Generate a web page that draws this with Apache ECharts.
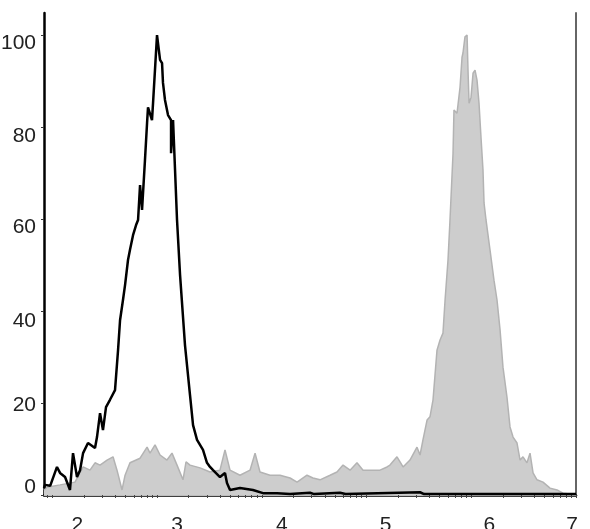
<!DOCTYPE html>
<html>
<head>
<meta charset="utf-8">
<script src="https://cdn.jsdelivr.net/npm/echarts@6/dist/echarts.min.js"></script>
<style>
html,body{margin:0;padding:0;background:#fff;}
#chart{width:590px;height:529px;}
</style>
</head>
<body>
<div id="chart"></div>
<script>
// X axis in decades (log10 of intensity), Y axis in % of max
const xTickLabels = [2, 3, 4, 5, 6, 7];
const yTickLabels = [0, 20, 40, 60, 80, 100];

const blackX = [1.921,1.93,1.98,2.045,2.074,2.122,2.169,2.198,2.236,2.265,2.294,2.341,2.408,2.427,2.456,2.484,2.513,2.551,2.599,2.628,2.647,2.675,2.695,2.723,2.742,2.771,2.800,2.819,2.838,2.857,2.885,2.905,2.914,2.952,2.962,3.000,3.029,3.048,3.057,3.076,3.105,3.134,3.134,3.153,3.172,3.191,3.220,3.267,3.315,3.344,3.382,3.439,3.477,3.506,3.535,3.601,3.649,3.668,3.697,3.792,3.916,4.012,4.146,4.270,4.461,4.50,4.747,4.80,5.511,5.55,7.0];
const blackY = [1.5,2.2,2.0,6.1,4.8,3.9,1.1,9.1,3.9,5.4,9.1,11.3,10.2,12.6,17.8,14.1,19.1,20.7,22.8,31.5,38.0,42.4,45.7,51.1,53.3,56.5,58.7,59.8,67.4,62.0,72.8,80.9,84.3,81.5,85.2,100,94.6,93.9,89.6,85.9,82.6,81.5,74.3,81.5,70.7,59.8,47.8,32.6,21.7,15.2,12.0,9.8,7.0,6.1,5.4,3.9,4.8,2.6,1.1,1.5,1.1,0.4,0.4,0.2,0.5,0.2,0.5,0.2,0.6,0.2,0.2];

const grayX = [1.921,1.950,2.074,2.217,2.294,2.360,2.408,2.456,2.523,2.580,2.618,2.666,2.695,2.742,2.838,2.905,2.933,2.981,3.029,3.095,3.143,3.191,3.248,3.277,3.315,3.411,3.506,3.601,3.649,3.697,3.792,3.888,3.936,3.983,4.079,4.174,4.270,4.337,4.432,4.489,4.556,4.652,4.718,4.776,4.843,4.909,4.967,5.033,5.129,5.196,5.224,5.291,5.349,5.415,5.482,5.511,5.539,5.578,5.606,5.635,5.673,5.702,5.730,5.750,5.778,5.797,5.826,5.835,5.864,5.893,5.912,5.921,5.940,5.960,5.969,5.979,5.998,6.017,6.036,6.055,6.074,6.093,6.112,6.122,6.141,6.179,6.217,6.246,6.275,6.303,6.341,6.370,6.399,6.437,6.466,6.494,6.532,6.561,6.590,6.628,6.685,6.752,6.819,6.876,6.943,7.000];
const grayY = [1.1,1.7,2.2,2.8,6.1,5.4,7.0,6.5,7.6,8.3,5.4,1.1,4.3,7.0,8.0,10.4,9.1,10.9,8.7,7.6,9.1,6.5,3.3,7.2,6.5,5.9,5.0,5.4,9.8,5.4,4.3,5.4,9.1,5.0,4.3,4.3,3.7,2.8,4.3,3.7,3.3,4.3,5.0,6.5,5.4,7.0,5.4,5.4,5.4,6.1,6.5,8.3,6.1,7.6,10.4,8.7,12.0,16.3,17.0,20.7,31.5,33.7,35.2,42.4,51.1,59.8,74.3,83.7,83.0,88.7,95.2,96.1,99.6,100,92.4,85.2,86.5,91.7,92.4,90.2,85.2,77.8,70.7,63.5,59.8,53.3,46.7,42.4,35.9,27.8,21.3,14.8,12.6,11.3,7.6,8.3,7.0,9.1,4.8,3.3,2.8,1.5,1.1,0.4,0.2,0];

const blackData = blackX.map((x, i) => [x, blackY[i]]);
const grayData = grayX.map((x, i) => [x, grayY[i]]);

// minor tick positions on the log-decade axis
const xMinorTicks = [];
for (let d = 1; d <= 6; d++) {
  for (let k = 1; k <= 9; k++) {
    const v = d + Math.log10(k);
    if (v >= 1.921 && v <= 7) xMinorTicks.push(+v.toFixed(4));
  }
}
xMinorTicks.push(7);

const FONT = "'Liberation Sans', Arial, sans-serif";
const FS = 21;
const TXT = '#222';

// label shifts (px) so labels sit where they do in the figure
const xShift = {2: 25, 3: 20, 4: 20, 5: 19, 6: 18, 7: -4};
const yShift = {0: -8, 20: 2, 40: 10, 60: 8, 80: 9, 100: 8};

const xRich = {};
xTickLabels.forEach(v => {
  const s = xShift[v];
  xRich['x' + v] = {
    fontFamily: FONT, fontSize: FS, color: TXT,
    padding: s >= 0 ? [0, 0, 0, 2 * s] : [0, -2 * s, 0, 0]
  };
});
const yRich = {};
yTickLabels.forEach(v => {
  const s = yShift[v];
  yRich['y' + v] = {
    fontFamily: FONT, fontSize: FS, color: TXT,
    padding: s >= 0 ? [2 * s, 0, 0, 0] : [0, 0, -2 * s, 0]
  };
});

const chart = echarts.init(document.getElementById('chart'), null, {renderer: 'canvas'});
chart.setOption({
  animation: false,
  backgroundColor: '#fff',
  grid: {left: 44, right: 14, top: 13, bottom: 34, containLabel: false, outerBoundsMode: 'none'},
  xAxis: [{
    type: 'value',
    min: 1.921,
    max: 7,
    position: 'bottom',
    axisLine: {show: true, lineStyle: {color: '#000', width: 2.5}},
    axisTick: {show: true, customValues: xMinorTicks, length: 3, lineStyle: {color: '#444', width: 1}},
    splitLine: {show: false},
    axisLabel: {
      customValues: xTickLabels,
      margin: 20,
      formatter: v => '{x' + Math.round(v) + '|' + Math.round(v) + '}',
      rich: xRich
    }
  }, {
    type: 'value',
    min: 1.921,
    max: 7,
    position: 'top',
    axisLine: {show: true, lineStyle: {color: '#bdbdbd', width: 1}},
    axisTick: {show: false},
    axisLabel: {show: false},
    splitLine: {show: false}
  }],
  yAxis: [{
    type: 'value',
    min: 0,
    max: 104.8,
    interval: 20,
    position: 'left',
    axisLine: {show: true, lineStyle: {color: '#000', width: 2.5}},
    axisTick: {show: true, customValues: yTickLabels, length: 3, lineStyle: {color: '#333', width: 1}},
    splitLine: {show: false},
    axisLabel: {
      customValues: yTickLabels,
      margin: 8,
      formatter: v => '{y' + Math.round(v) + '|' + Math.round(v) + '}',
      rich: yRich
    }
  }, {
    type: 'value',
    min: 0,
    max: 104.8,
    position: 'right',
    axisLine: {show: true, lineStyle: {color: '#666', width: 2}},
    axisTick: {show: false},
    axisLabel: {show: false},
    splitLine: {show: false}
  }],
  series: [{
    name: 'gray',
    type: 'line',
    data: grayData,
    showSymbol: false,
    symbol: 'none',
    smooth: false,
    lineStyle: {color: '#b3b3b3', width: 1.5},
    areaStyle: {color: '#cdcdcd', opacity: 1, origin: 'start'},
    z: 2
  }, {
    name: 'black',
    type: 'line',
    data: blackData,
    showSymbol: false,
    symbol: 'none',
    smooth: false,
    lineStyle: {color: '#000', width: 2.5},
    z: 3
  }]
});
</script>
</body>
</html>
